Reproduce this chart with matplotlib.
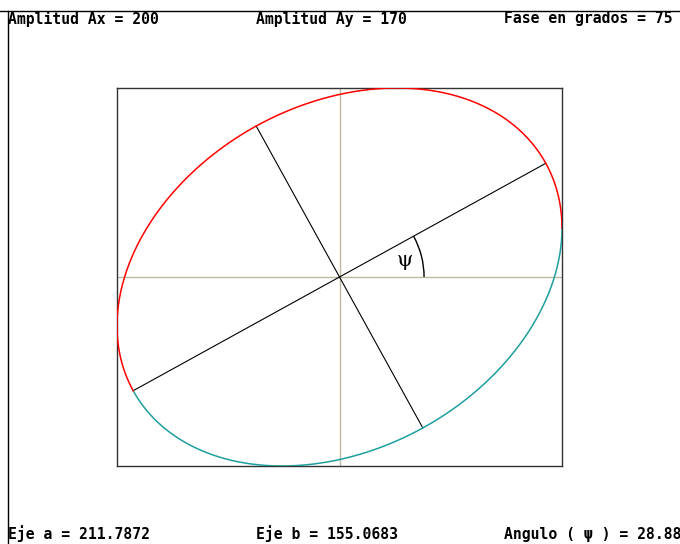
import numpy as np
import matplotlib
matplotlib.use("Agg")
import matplotlib.pyplot as plt
from matplotlib.lines import Line2D
from matplotlib.patches import Arc

# values
amp_x = 200
amp_y = 170
fase_grados = 75
eje_a = 211.7872
eje_b = 155.0683
angulo_psi = 28.88
t_split = 158  # grados, donde cambia el color rojo -> verde azulado

W, H = 680, 544
fig = plt.figure(figsize=(W / 100, H / 100), dpi=100)

def fx(px):
    return px / W

def fy(py):
    return 1 - py / H

# plot box (pixels 117..562 x 88..466)
ax = fig.add_axes([fx(117), fy(466), (562 - 117) / W, (466 - 88) / H])
ax.set_xlim(-amp_x, amp_x)
ax.set_ylim(-amp_y, amp_y)
ax.set_xticks([])
ax.set_yticks([])
for s in ax.spines.values():
    s.set_color("#333333")
    s.set_linewidth(1.0)

grid_c = "#bdb8a2"
ax.axhline(0, color=grid_c, lw=1.0, zorder=1)
ax.axvline(0, color=grid_c, lw=1.0, zorder=1)

# ellipse
phi = np.radians(fase_grados)
t1 = np.radians(np.linspace(0, t_split, 400))
t2 = np.radians(np.linspace(t_split, 360, 500))
ax.plot(amp_x * np.cos(t1), amp_y * np.cos(t1 + phi), color="#1f9e9e", lw=1.1, zorder=3)
ax.plot(amp_x * np.cos(t2), amp_y * np.cos(t2 + phi), color="#ff0000", lw=1.1, zorder=3)

# axes of the ellipse
psi = np.radians(angulo_psi)
ax.plot([-eje_a * np.cos(psi), eje_a * np.cos(psi)],
        [-eje_a * np.sin(psi), eje_a * np.sin(psi)], color="black", lw=0.8, zorder=2)
ax.plot([eje_b * np.sin(psi), -eje_b * np.sin(psi)],
        [-eje_b * np.cos(psi), eje_b * np.cos(psi)], color="black", lw=0.8, zorder=2)

# angle arc
r = 76
ax.add_patch(Arc((0, 0), 2 * r, 2 * r, theta1=0, theta2=angulo_psi, color="black", lw=1.0))
ax.text(59, 15, "ψ", fontsize=15, ha="center", va="center", family="DejaVu Serif")

# frame lines
fig.add_artist(Line2D([0, 1], [fy(11), fy(11)], color="black", lw=1.0, transform=fig.transFigure))
fig.add_artist(Line2D([fx(8), fx(8)], [fy(11), 0], color="black", lw=1.0, transform=fig.transFigure))

font = dict(family="DejaVu Sans Mono", fontweight="bold", fontsize=10.6, va="center", ha="left")
fig.text(fx(8), fy(19), "Amplitud Ax = %d" % amp_x, **font)
fig.text(fx(256), fy(19), "Amplitud Ay = %d" % amp_y, **font)
fig.text(fx(504), fy(19), "Fase en grados = %d" % fase_grados, **font)
fig.text(fx(8), fy(534), "Eje a = %.4f" % eje_a, **font)
fig.text(fx(256), fy(534), "Eje b = %.4f" % eje_b, **font)
fig.text(fx(504), fy(534), "Angulo ( ψ ) = %.2f" % angulo_psi, **font)

fig.savefig("out.png", dpi=100)
